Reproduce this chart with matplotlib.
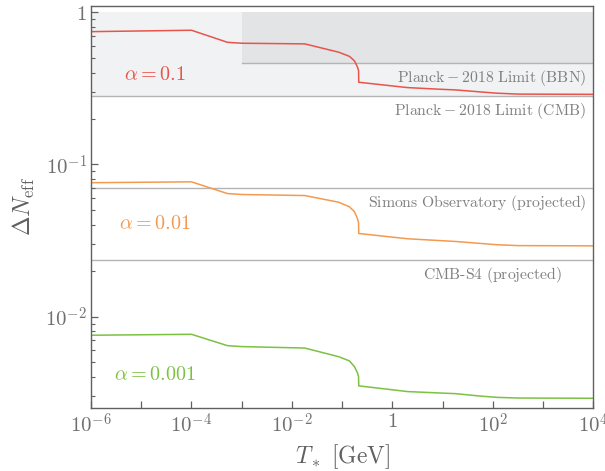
import numpy as np
import matplotlib
matplotlib.use("Agg")
import matplotlib.pyplot as plt
from matplotlib.ticker import LogLocator, FixedLocator, FixedFormatter, NullFormatter

plt.rcParams['mathtext.fontset'] = 'cm'
plt.rcParams['font.family'] = ['DejaVu Serif']

# ---- data ----
T_GeV = [1e-6, 1e-4, 5.2e-4, 1.0e-3, 1.8e-2, 8.5e-2, 0.14, 0.175, 0.2, 0.212, 0.214,
         2.0, 9.0, 18.0, 55.0, 120.0, 320.0, 1e4]
dN_alpha_0p1 = [0.746, 0.762, 0.635, 0.626, 0.620, 0.547, 0.513, 0.48, 0.44, 0.415, 0.347,
                0.320, 0.312, 0.309, 0.300, 0.294, 0.290, 0.289]
dN_alpha_0p01 = [0.0759, 0.0769, 0.0644, 0.0635, 0.0625, 0.0565, 0.0527, 0.049, 0.0445, 0.0414, 0.0352,
                 0.0325, 0.0316, 0.0312, 0.0303, 0.0297, 0.0293, 0.0292]
dN_alpha_0p001 = [0.00755, 0.00766, 0.00645, 0.00636, 0.00622, 0.00546, 0.00512, 0.0047, 0.0043, 0.00404, 0.00351,
                  0.00322, 0.00315, 0.00312, 0.00301, 0.00295, 0.00292, 0.00291]
alpha_labels = [r'$\alpha = 0.1$', r'$\alpha = 0.01$', r'$\alpha = 0.001$']
alpha_label_y = [0.39, 0.041, 0.0042]

planck_cmb = 0.283
planck_bbn = 0.462
simons_obs = 0.0704
cmb_s4 = 0.0234
shade_top = 1.0
bbn_xstart = 1e-3

xtick_vals = [1e-6, 1e-5, 1e-4, 1e-3, 1e-2, 1e-1, 1, 10, 1e2, 1e3, 1e4]
xtick_labels = [r'$10^{-6}$', '', r'$10^{-4}$', '', r'$10^{-2}$', '', r'$1$', '', r'$10^{2}$', '', r'$10^{4}$']
ytick_vals = [1e-2, 1e-1, 1]
ytick_labels = [r'$10^{-2}$', r'$10^{-1}$', r'$1$']

# ---- style ----
c_red = '#e8544a'
c_orange = '#f39a50'
c_green = '#7cc142'
c_line = '#b4b4b4'
c_text = '#808080'
c_axis = '#606060'

fig = plt.figure(figsize=(6.05, 4.71), dpi=100)
ax = fig.add_axes([0.1504, 0.1348, 0.9807 - 0.1504, 0.9873 - 0.1348])
ax.set_xscale('log')
ax.set_yscale('log')
ax.set_xlim(1e-6, 1e4)
ax.set_ylim(0.00253, 1.1)

# shaded regions
ax.fill_between([1e-6, 1e4], planck_cmb, shade_top, color='#f1f2f4', lw=0, zorder=0)
ax.fill_between([bbn_xstart, 1e4], planck_bbn, shade_top, color='#e3e4e6', lw=0, zorder=0)

# limit lines
ax.axhline(planck_cmb, color=c_line, lw=1.0, zorder=1)
ax.plot([bbn_xstart, 1e4], [planck_bbn, planck_bbn], color=c_line, lw=1.0, zorder=1)
ax.axhline(simons_obs, color=c_line, lw=1.0, zorder=1)
ax.axhline(cmb_s4, color=c_line, lw=1.0, zorder=1)

# curves
for y, c in zip([dN_alpha_0p1, dN_alpha_0p01, dN_alpha_0p001], [c_red, c_orange, c_green]):
    ax.plot(T_GeV, y, color=c, lw=1.1, zorder=3)

for lab, yy, c in zip(alpha_labels, alpha_label_y, [c_red, c_orange, c_green]):
    ax.text(1.9e-5, yy, lab, color=c, fontsize=14.5, ha='center', va='center')

def lab(y, s, x=1.0 - 0.014, ha='right', xd=False):
    ax.annotate(s, xy=(x, y), xycoords=('axes fraction' if not xd else 'data', 'data'),
                xytext=(0, -3.5), textcoords='offset points', ha=ha, va='top',
                color=c_text, fontsize=11.3)

lab(planck_bbn, r'$\mathrm{Planck - 2018\ Limit\ (BBN)}$')
lab(planck_cmb, r'$\mathrm{Planck - 2018\ Limit\ (CMB)}$')
lab(simons_obs, r'$\mathrm{Simons\ Observatory\ (projected)}$')
lab(cmb_s4, r'$\mathrm{CMB}\text{-}\mathrm{S4\ (projected)}$', x=100, ha='center', xd=True)

# ticks
ax.xaxis.set_major_locator(FixedLocator(xtick_vals))
ax.xaxis.set_major_formatter(FixedFormatter(xtick_labels))
ax.xaxis.set_minor_locator(FixedLocator([]))
ax.yaxis.set_major_locator(FixedLocator(ytick_vals))
ax.yaxis.set_major_formatter(FixedFormatter(ytick_labels))
ax.yaxis.set_minor_locator(LogLocator(base=10, subs=np.arange(2, 10)))
ax.yaxis.set_minor_formatter(NullFormatter())
ax.tick_params(which='both', direction='in', colors=c_axis, labelcolor='#707070', labelsize=15)
ax.tick_params(which='major', length=5, width=0.9)
ax.tick_params(axis='x', which='major', pad=3.5)
ax.tick_params(axis='y', which='major', pad=3)
ax.tick_params(which='minor', length=3, width=0.8)
for s in ax.spines.values():
    s.set_color(c_axis)
    s.set_linewidth(1.0)
    s.set_zorder(5)

ax.set_xlabel(r'$T_* \ [\mathrm{GeV}]$', fontsize=17, color='#606060', labelpad=4)
ax.set_ylabel(r'$\Delta N_{\mathrm{eff}}$', fontsize=17, color='#606060', labelpad=6)

fig.savefig('out.png', dpi=100)
